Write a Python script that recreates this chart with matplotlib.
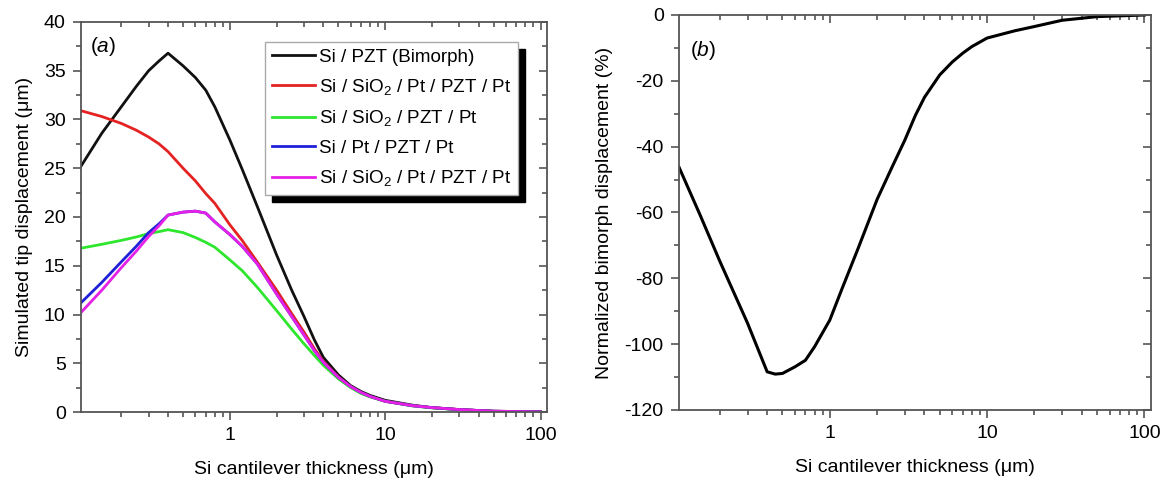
import matplotlib
matplotlib.use("Agg")
import matplotlib.pyplot as plt
from matplotlib.ticker import LogLocator, FixedLocator, MultipleLocator, NullFormatter

plt.rcParams['font.family'] = ['Liberation Sans', 'DejaVu Sans']
plt.rcParams['mathtext.fontset'] = 'custom'
plt.rcParams['mathtext.rm'] = 'Liberation Sans'
plt.rcParams['mathtext.it'] = 'Liberation Sans:italic'
plt.rcParams['mathtext.default'] = 'regular'
plt.rcParams['axes.unicode_minus'] = False

# ---------------- data ----------------
thickness = [0.11, 0.15, 0.2, 0.25, 0.3, 0.35, 0.4, 0.5, 0.6, 0.7, 0.8, 1, 1.2, 1.5, 2, 2.5, 3, 3.5, 4, 5, 6, 7, 8, 10, 15, 20, 30, 50, 100]
si_pzt = [25.2, 28.6, 31.3, 33.4, 35.0, 36.0, 36.8, 35.5, 34.3, 33.0, 31.3, 27.9, 24.9, 21.1, 16.1, 12.5, 9.8, 7.4, 5.6, 3.8, 2.7, 2.1, 1.7, 1.2, 0.7, 0.45, 0.25, 0.08, 0.02]
si_sio2_pt_pzt_pt = [30.9, 30.3, 29.6, 28.9, 28.2, 27.5, 26.7, 25.0, 23.7, 22.4, 21.4, 19.2, 17.6, 15.4, 12.5, 10.1, 8.2, 6.5, 5.2, 3.6, 2.6, 2.0, 1.6, 1.1, 0.65, 0.45, 0.25, 0.08, 0.02]
si_sio2_pzt_pt = [16.8, 17.2, 17.6, 17.95, 18.3, 18.5, 18.7, 18.4, 17.9, 17.4, 16.9, 15.6, 14.5, 12.8, 10.4, 8.5, 7.0, 5.8, 4.8, 3.4, 2.5, 1.9, 1.55, 1.1, 0.62, 0.42, 0.23, 0.07, 0.02]
si_pt_pzt_pt = [11.2, 13.3, 15.4, 17.0, 18.4, 19.3, 20.2, 20.5, 20.6, 20.4, 19.5, 18.2, 17.0, 15.2, 12.1, 9.8, 7.9, 6.3, 5.1, 3.55, 2.6, 2.0, 1.6, 1.1, 0.65, 0.45, 0.25, 0.08, 0.02]
si_sio2_pt_pzt_pt_b = [10.2, 12.5, 14.8, 16.5, 18.0, 19.1, 20.2, 20.5, 20.6, 20.4, 19.5, 18.2, 17.0, 15.2, 12.1, 9.8, 7.9, 6.3, 5.1, 3.55, 2.6, 2.0, 1.6, 1.1, 0.65, 0.45, 0.25, 0.08, 0.02]

series_labels = ['Si / PZT (Bimorph)',
                 'Si / SiO$_2$ / Pt / PZT / Pt',
                 'Si / SiO$_2$ / PZT / Pt',
                 'Si / Pt / PZT / Pt',
                 'Si / SiO$_2$ / Pt / PZT / Pt']
series_colors = ['#111111', '#e52222', '#2ee62e', '#2020d8', '#e620e6']

thickness_b = [0.11, 0.15, 0.2, 0.3, 0.4, 0.45, 0.5, 0.6, 0.7, 0.8, 1, 1.2, 1.5, 2, 2.5, 3, 3.5, 4, 5, 6, 7, 8, 10, 15, 20, 30, 50, 100]
normalized = [-46.2, -60.8, -74.8, -93.6, -108.4, -109.1, -108.9, -106.9, -104.9, -100.8, -92.7, -83.0, -71.4, -56.0, -46.0, -38.0, -30.5, -25.0, -18.2, -14.3, -11.6, -9.6, -7.0, -4.8, -3.5, -1.6, -0.5, 0.0]

xticks = [1, 10, 100]
xticklabels = ['1', '10', '100']

# ---------------- figure ----------------
fig = plt.figure(figsize=(11.68, 4.82), dpi=100)
axA = fig.add_axes([0.0693, 0.1452, 0.399, 0.8092])
axB = fig.add_axes([0.5813, 0.1494, 0.4041, 0.8195])

spine_col = '#555555'
FS = 14


def style(ax):
    ax.set_xscale('log')
    ax.set_xlim(0.11, 110)
    for s in ax.spines.values():
        s.set_color(spine_col)
        s.set_linewidth(1.3)
    ax.xaxis.set_major_locator(FixedLocator(xticks))
    ax.set_xticklabels(xticklabels)
    ax.xaxis.set_minor_locator(LogLocator(base=10, subs=range(2, 10)))
    ax.xaxis.set_minor_formatter(NullFormatter())
    ax.tick_params(which='both', direction='out', colors=spine_col, labelcolor='black',
                   labelsize=FS, width=1.2)
    ax.tick_params(which='major', length=6, pad=5)
    ax.tick_params(which='minor', length=3.5)
    ax.set_xlabel('Si cantilever thickness (μm)', fontsize=FS, labelpad=12)
    # mirrored ticks inward
    sx = ax.secondary_xaxis('top')
    sx.xaxis.set_major_locator(FixedLocator(xticks))
    sx.xaxis.set_minor_locator(LogLocator(base=10, subs=range(2, 10)))
    sx.tick_params(which='both', direction='in', colors=spine_col, labeltop=False, width=1.2)
    sx.tick_params(which='major', length=6)
    sx.tick_params(which='minor', length=3.5)
    sx.spines['top'].set_visible(False)
    return sx


style(axA)
style(axB)

# panel (a)
all_series = [si_pzt, si_sio2_pt_pzt_pt, si_sio2_pzt_pt, si_pt_pzt_pt, si_sio2_pt_pzt_pt_b]
for ys, lab, col in zip(all_series, series_labels, series_colors):
    axA.plot(thickness, ys, color=col, lw=2.0, label=lab, solid_joinstyle='round')
axA.set_ylim(0, 40)
axA.yaxis.set_major_locator(MultipleLocator(5))
axA.yaxis.set_minor_locator(MultipleLocator(2.5))
axA.set_ylabel('Simulated tip displacement (μm)', fontsize=FS, labelpad=8)
syA = axA.secondary_yaxis('right')
syA.yaxis.set_major_locator(MultipleLocator(5))
syA.yaxis.set_minor_locator(MultipleLocator(2.5))
syA.tick_params(which='both', direction='in', colors=spine_col, labelright=False, width=1.2)
syA.tick_params(which='major', length=6)
syA.tick_params(which='minor', length=3.5)
syA.spines['right'].set_visible(False)
axA.text(0.02, 0.938, '($\\it{a}$)', transform=axA.transAxes, fontsize=FS + 1, va='center', ha='left')

leg = axA.legend(loc='upper left', bbox_to_anchor=(0.395, 0.949), borderaxespad=0,
                 fontsize=13.6, frameon=True, fancybox=False, handlelength=2.3,
                 handletextpad=0.2, labelspacing=0.6, borderpad=0.35,
                 shadow={'ox': 5, 'oy': -5, 'facecolor': 'black', 'edgecolor': 'black', 'alpha': 1})
leg.get_frame().set_edgecolor('#aaaaaa')
leg.get_frame().set_linewidth(1.0)

# panel (b)
axB.plot(thickness_b, normalized, color='black', lw=2.2, solid_joinstyle='round')
axB.set_ylim(-120, 0)
axB.yaxis.set_major_locator(MultipleLocator(20))
axB.yaxis.set_minor_locator(MultipleLocator(10))
axB.set_ylabel('Normalized bimorph displacement (%)', fontsize=FS, labelpad=8)
syB = axB.secondary_yaxis('right')
syB.yaxis.set_major_locator(MultipleLocator(20))
syB.yaxis.set_minor_locator(MultipleLocator(10))
syB.tick_params(which='both', direction='in', colors=spine_col, labelright=False, width=1.2)
syB.tick_params(which='major', length=6)
syB.tick_params(which='minor', length=3.5)
syB.spines['right'].set_visible(False)
axB.text(0.023, 0.911, '($\\it{b}$)', transform=axB.transAxes, fontsize=FS + 1, va='center', ha='left')

fig.savefig('out.png', dpi=100)
